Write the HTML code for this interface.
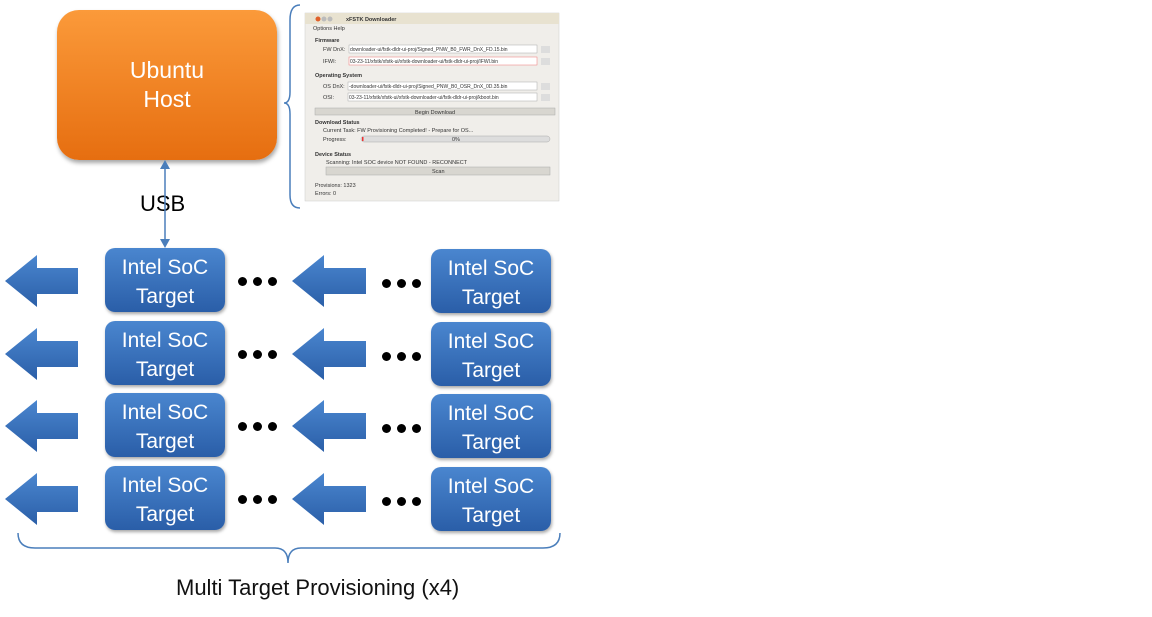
<!DOCTYPE html>
<html><head><style>
body{margin:0;width:1152px;height:617px;background:#fff;position:relative;overflow:hidden;font-family:"Liberation Sans",sans-serif}
.abs{position:absolute}
.box{position:absolute;width:120px;height:64px;border-radius:10px;background:linear-gradient(#4a86cf,#2a5ea8);box-shadow:1px 2px 3px rgba(0,0,0,.35);color:#fff;font-size:21px;line-height:29px;text-align:center;padding-top:5px;box-sizing:border-box}
.dot{position:absolute;width:9px;height:9px;border-radius:50%;background:#000}
</style></head><body>
<div class="abs" style="left:57px;top:10px;width:220px;height:150px;border-radius:22px;background:linear-gradient(#fb9a3a,#e66e10);box-shadow:1px 3px 4px rgba(0,0,0,.35);color:#fff;font-size:23px;line-height:29px;text-align:center;box-sizing:border-box;padding-top:46px">Ubuntu<br>Host</div>
<div class="abs" style="left:140px;top:191px;font-size:22px">USB</div>

<svg class="abs" style="left:0;top:0" width="1152" height="617">
<defs><linearGradient id="ag" x1="0" y1="0" x2="0" y2="1"><stop offset="0" stop-color="#4a86cf"/><stop offset="1" stop-color="#2b5fa8"/></linearGradient></defs>
<line x1="165" y1="166" x2="165" y2="242" stroke="#4a7ebb" stroke-width="1.5"/>
<polygon points="165,160 160,169 170,169" fill="#4a7ebb"/>
<polygon points="165,248 160,239 170,239" fill="#4a7ebb"/>
<path d="M300,5 Q290,5 290,20 L290,92 Q290,103 284,103 Q290,103 290,114 L290,195 Q290,208 300,208" fill="none" stroke="#4a7ebb" stroke-width="1.5"/>
<path d="M18,533 Q18,548 35,548 L275,548 Q288,548 288,563 Q288,548 301,548 L543,548 Q560,548 560,533" fill="none" stroke="#4a7ebb" stroke-width="1.5"/>
<g fill="url(#ag)">
<polygon points="5,281 37,255 37,268 78,268 78,294 37,294 37,307"/>
<polygon points="292,281 324,255 324,268 366,268 366,294 324,294 324,307"/>
<polygon points="5,354 37,328 37,341 78,341 78,367 37,367 37,380"/>
<polygon points="292,354 324,328 324,341 366,341 366,367 324,367 324,380"/>
<polygon points="5,426 37,400 37,413 78,413 78,439 37,439 37,452"/>
<polygon points="292,426 324,400 324,413 366,413 366,439 324,439 324,452"/>
<polygon points="5,499 37,473 37,486 78,486 78,512 37,512 37,525"/>
<polygon points="292,499 324,473 324,486 366,486 366,512 324,512 324,525"/>
</g>
<g font-family="Liberation Sans,sans-serif" font-size="5.5" fill="#333">
<rect x="305" y="13" width="254" height="188" fill="#f0eeea" stroke="#ccc" stroke-width="0.5"/>
<rect x="305" y="13" width="254" height="11" fill="#e8e2d0"/>
<circle cx="318" cy="19" r="2.5" fill="#e0602a"/><circle cx="324" cy="19" r="2.5" fill="#bbb"/><circle cx="330" cy="19" r="2.5" fill="#bbb"/>
<text x="346" y="21" font-weight="bold">xFSTK Downloader</text>
<text x="313" y="30">Options  Help</text>
<text x="315" y="42" font-weight="bold">Firmware</text>
<text x="323" y="51">FW DnX:</text><rect x="349" y="45" width="188" height="8" fill="#fff" stroke="#aaa" stroke-width=".5"/><text x="350" y="51" font-size="5">downloader-ui/fstk-dldr-ui-proj/Signed_PNW_B0_FWR_DnX_FD.15.bin</text><rect x="541" y="46" width="9" height="7" fill="#ddd"/>
<text x="323" y="63">IFWI:</text><rect x="349" y="57" width="188" height="8" fill="#fff" stroke="#e77" stroke-width=".5"/><text x="350" y="63" font-size="5">03-23-11/xfstk/xfstk-ui/xfstk-downloader-ui/fstk-dldr-ui-proj/IFWI.bin</text><rect x="541" y="58" width="9" height="7" fill="#ddd"/>
<text x="315" y="77" font-weight="bold">Operating System</text>
<text x="323" y="88">OS DnX:</text><rect x="348" y="82" width="189" height="8" fill="#fff" stroke="#aaa" stroke-width=".5"/><text x="349" y="88" font-size="5">-downloader-ui/fstk-dldr-ui-proj/Signed_PNW_B0_OSR_DnX_0D.35.bin</text><rect x="541" y="83" width="9" height="7" fill="#ddd"/>
<text x="323" y="99">OSI:</text><rect x="348" y="93" width="189" height="8" fill="#fff" stroke="#aaa" stroke-width=".5"/><text x="349" y="99" font-size="5">03-23-11/xfstk/xfstk-ui/xfstk-downloader-ui/fstk-dldr-ui-proj/kboot.bin</text><rect x="541" y="94" width="9" height="7" fill="#ddd"/>
<rect x="315" y="108" width="240" height="7" fill="#d8d6d0" stroke="#aaa" stroke-width=".5"/><text x="415" y="114">Begin Download</text>
<text x="315" y="124" font-weight="bold">Download Status</text>
<text x="323" y="132">Current Task:  FW Provisioning Completed! - Prepare for OS...</text>
<text x="323" y="141">Progress:</text><rect x="361" y="136" width="189" height="6" rx="3" fill="#ddd" stroke="#aaa" stroke-width=".5"/><rect x="362" y="137" width="1.5" height="4" fill="#e33"/><text x="452" y="141">0%</text>
<text x="315" y="156" font-weight="bold">Device Status</text>
<text x="326" y="164">Scanning: Intel SOC device NOT FOUND - RECONNECT</text>
<rect x="326" y="167" width="224" height="8" fill="#d8d6d0" stroke="#aaa" stroke-width=".5"/><text x="432" y="173">Scan</text>
<text x="315" y="187">Provisions: 1323</text>
<text x="315" y="195">Errors: 0</text>
</g>
</svg>

<div class="box" style="left:105px;top:248px">Intel SoC<br>Target</div>
<div class="box" style="left:431px;top:249px">Intel SoC<br>Target</div>
<div class="box" style="left:105px;top:321px">Intel SoC<br>Target</div>
<div class="box" style="left:431px;top:322px">Intel SoC<br>Target</div>
<div class="box" style="left:105px;top:393px">Intel SoC<br>Target</div>
<div class="box" style="left:431px;top:394px">Intel SoC<br>Target</div>
<div class="box" style="left:105px;top:466px">Intel SoC<br>Target</div>
<div class="box" style="left:431px;top:467px">Intel SoC<br>Target</div>

<div class="dot" style="left:238px;top:277px"></div><div class="dot" style="left:253px;top:277px"></div><div class="dot" style="left:268px;top:277px"></div>
<div class="dot" style="left:382px;top:279px"></div><div class="dot" style="left:397px;top:279px"></div><div class="dot" style="left:412px;top:279px"></div>
<div class="dot" style="left:238px;top:350px"></div><div class="dot" style="left:253px;top:350px"></div><div class="dot" style="left:268px;top:350px"></div>
<div class="dot" style="left:382px;top:352px"></div><div class="dot" style="left:397px;top:352px"></div><div class="dot" style="left:412px;top:352px"></div>
<div class="dot" style="left:238px;top:422px"></div><div class="dot" style="left:253px;top:422px"></div><div class="dot" style="left:268px;top:422px"></div>
<div class="dot" style="left:382px;top:424px"></div><div class="dot" style="left:397px;top:424px"></div><div class="dot" style="left:412px;top:424px"></div>
<div class="dot" style="left:238px;top:495px"></div><div class="dot" style="left:253px;top:495px"></div><div class="dot" style="left:268px;top:495px"></div>
<div class="dot" style="left:382px;top:497px"></div><div class="dot" style="left:397px;top:497px"></div><div class="dot" style="left:412px;top:497px"></div>

<div class="abs" style="left:176px;top:575px;font-size:22px;color:#111">Multi Target Provisioning (x4)</div>
</body></html>
